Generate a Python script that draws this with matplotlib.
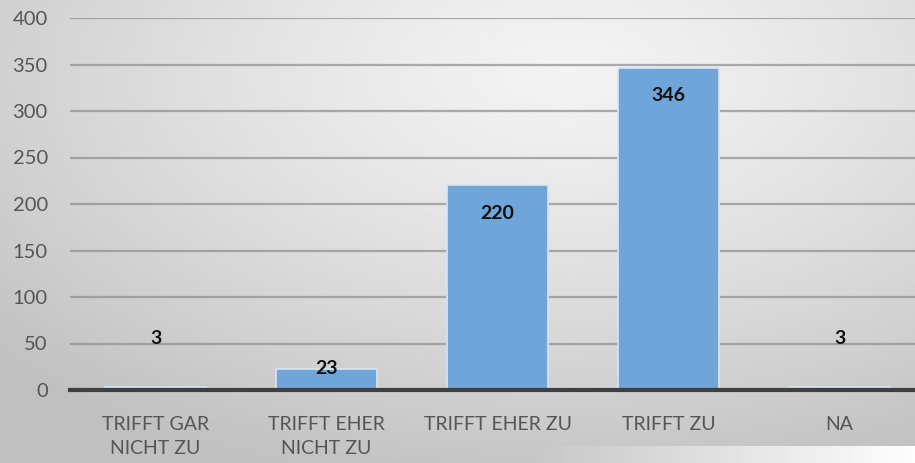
import matplotlib.pyplot as plt
import numpy as np

# Daten aus dem Diagramm
kategorien = ["TRIFFT GAR\nNICHT ZU", "TRIFFT EHER\nNICHT ZU", "TRIFFT EHER ZU", "TRIFFT ZU", "NA"]
anzahl = [3, 23, 220, 346, 3]
y_ticks = [0, 50, 100, 150, 200, 250, 300, 350, 400]

# Abstand der Beschriftung zum Balkenende (in Punkten)
label_offset = [35, 0, -20, -20, 35]

plt.rcParams['font.family'] = ['Lato', 'DejaVu Sans']

fig = plt.figure(figsize=(9.15, 4.63), dpi=100)

# grauer Verlauf als Hintergrund
bg = fig.add_axes([0, 0, 1, 1], zorder=-10)
yy, xx = np.mgrid[0:1:200j, 0:1:400j]
d = np.sqrt(((xx - 0.62) * 1.0) ** 2 + ((yy - 0.85) * 0.9) ** 2)
verlauf = 0.95 - 0.2 * np.clip(d / 0.85, 0, 1) ** 1.3
bg.imshow(verlauf, cmap='gray', vmin=0, vmax=1, extent=[0, 1, 0, 1],
          origin='lower', aspect='auto')
# heller Streifen unten rechts
streifen = np.tile(np.linspace(0.78, 0.99, 100), (5, 1))
bg.imshow(streifen, cmap='gray', vmin=0, vmax=1, extent=[0.586, 1, 0, 0.035],
          origin='lower', aspect='auto')
bg.set_xlim(0, 1)
bg.set_ylim(0, 1)
bg.axis('off')

ax = fig.add_axes([70 / 915, 73 / 463, 1 - 70 / 915, 372 / 463])
ax.patch.set_alpha(0)

x = np.arange(len(kategorien))
ax.bar(x, anzahl, width=0.59, color='#6fa5d8', edgecolor='#d7e6f5', linewidth=1.2, zorder=3)

for i, v in enumerate(anzahl):
    ax.annotate(str(v), xy=(x[i], v), xytext=(0, label_offset[i]), textcoords='offset points',
                ha='center', va='center', fontsize=14, fontweight='bold', color='#111111', zorder=5)

ax.set_ylim(0, 400)
ax.set_xlim(-0.5, 4.44)
ax.set_yticks(y_ticks)
ax.set_xticks(x)
ax.set_xticklabels(kategorien, fontsize=14, color='#555555', linespacing=1.45)
ax.tick_params(axis='y', labelsize=14.5, labelcolor='#555555', length=0, pad=16)
ax.tick_params(axis='x', length=0, pad=19)
ax.grid(axis='y', color='#8c8c8c', alpha=0.7, linewidth=1.6, zorder=0)
for s in ['top', 'right', 'left']:
    ax.spines[s].set_visible(False)
ax.spines['bottom'].set_color('#3f3f3f')
ax.spines['bottom'].set_linewidth(3)
ax.spines['bottom'].set_zorder(4)

fig.savefig('out.png', dpi=100)
